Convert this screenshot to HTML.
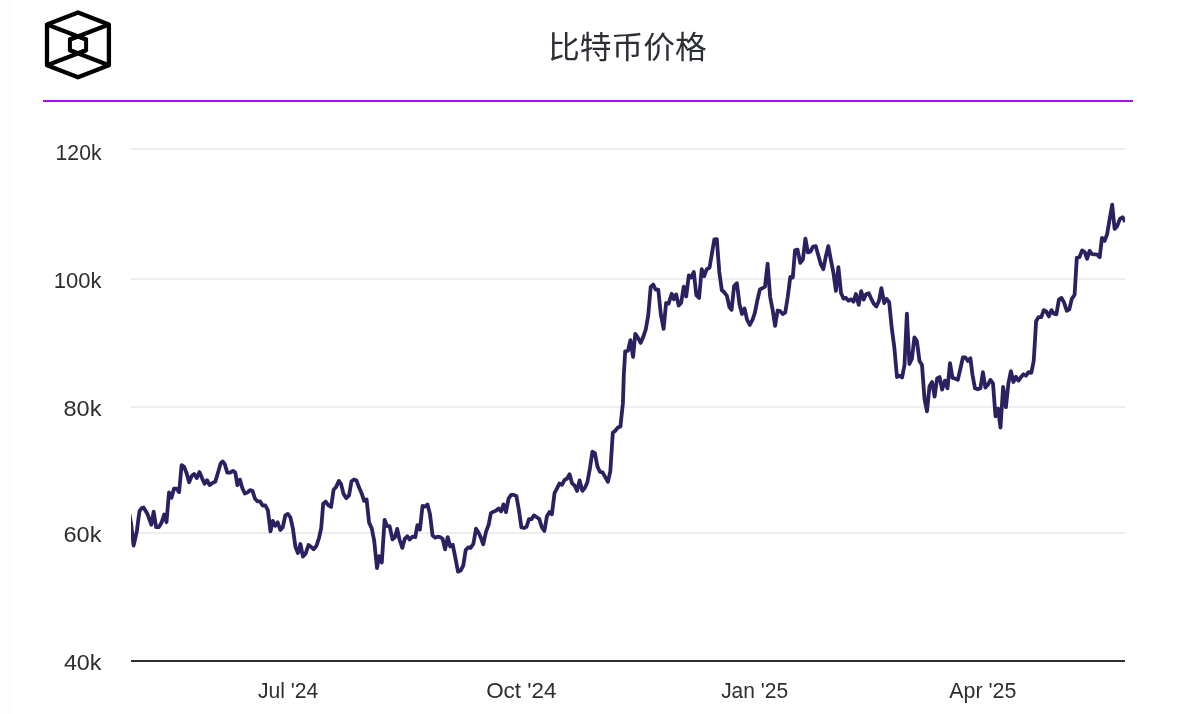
<!DOCTYPE html>
<html lang="zh">
<head>
<meta charset="utf-8">
<title>比特币价格</title>
<style>
html,body{margin:0;padding:0;background:#fff;}
body{width:1182px;height:714px;overflow:hidden;position:relative;font-family:"Liberation Sans","Noto Sans CJK SC",sans-serif;}
svg{position:absolute;left:0;top:0;display:block;}
.t{font-family:"Liberation Sans","Noto Sans CJK SC",sans-serif;font-size:22px;fill:#2e2e2e;}
.title{font-family:"Liberation Sans","Noto Sans CJK SC",sans-serif;font-size:31.8px;fill:#2b2e35;font-weight:400;}
</style>
</head>
<body>
<svg width="1182" height="714" viewBox="0 0 1182 714">
<rect width="1182" height="714" fill="#ffffff"/>
<rect x="0" y="0" width="12.7" height="714" fill="#fdfdfd"/>
<!-- logo -->
<g fill="none" stroke="#000" stroke-width="4.3" stroke-linejoin="round">
<path d="M78,12.4 L108.9,24.4 L108.9,65.3 L78,77.3 L47,65.3 L47,24.4 Z"/>
<path d="M47,24.4 L86.1,39.5 M108.9,24.4 L69.9,39.5 M47,65.3 L86.1,50.2 M108.9,65.3 L69.9,50.2"/>
<path stroke-width="4" stroke-linejoin="miter" d="M78,36.4 L86.1,39.5 L86.1,50.2 L78,53.3 L69.9,50.2 L69.9,39.5 Z"/>
</g>
<!-- title -->
<text class="title" x="627.4" y="58" text-anchor="middle" transform="translate(0 61) scale(1 0.963) translate(0 -61)">比特币价格</text>
<!-- purple rule -->
<rect x="43" y="100" width="1090" height="2" fill="#a80cff"/>
<!-- gridlines -->
<g fill="#eeeeee">
<rect x="131" y="148" width="994" height="2"/>
<rect x="131" y="278" width="994" height="2"/>
<rect x="131" y="406" width="994" height="2"/>
<rect x="131" y="532" width="994" height="2"/>
</g>
<rect x="131" y="660" width="994" height="2" fill="#303030"/>
<!-- y labels -->
<g class="t" text-anchor="end">
<text x="101.5" y="159.8" textLength="45.9" lengthAdjust="spacingAndGlyphs">120k</text>
<text x="101.5" y="287.8" textLength="47.8" lengthAdjust="spacingAndGlyphs">100k</text>
<text x="101.5" y="415.8" textLength="38.0" lengthAdjust="spacingAndGlyphs">80k</text>
<text x="101.5" y="541.9" textLength="38.0" lengthAdjust="spacingAndGlyphs">60k</text>
<text x="101.5" y="669.8" textLength="37.6" lengthAdjust="spacingAndGlyphs">40k</text>
</g>
<!-- x labels -->
<g class="t" text-anchor="middle">
<text x="288.1" y="698" textLength="60.3" lengthAdjust="spacingAndGlyphs">Jul '24</text>
<text x="521.3" y="698" textLength="70.3" lengthAdjust="spacingAndGlyphs">Oct '24</text>
<text x="754.6" y="698" textLength="66.9" lengthAdjust="spacingAndGlyphs">Jan '25</text>
<text x="982.8" y="698" textLength="67.1" lengthAdjust="spacingAndGlyphs">Apr '25</text>
</g>
<!-- series -->
<clipPath id="c"><rect x="131" y="120" width="994" height="560"/></clipPath>
<path clip-path="url(#c)" d="M128.4,509.3 L131.0,523.0 L133.6,545.6 L136.9,531.0 L138.5,518.0 L139.6,511.0 L141.5,508.2 L143.5,507.4 L147.4,513.8 L151.3,524.7 L153.7,511.7 L156.1,527.1 L158.9,527.1 L161.7,522.2 L164.2,514.5 L166.5,522.2 L169.0,492.5 L171.5,497.7 L174.0,488.6 L176.5,488.6 L179.1,492.1 L181.6,465.1 L184.1,466.9 L186.6,473.2 L189.1,482.3 L191.7,476.0 L194.2,473.9 L196.7,478.1 L199.5,472.1 L202.0,478.1 L204.6,483.7 L207.1,480.2 L209.6,485.1 L212.5,483.0 L215.3,481.6 L217.8,473.3 L220.6,463.5 L222.7,461.4 L224.8,464.2 L227.3,472.6 L230.1,472.6 L232.9,470.9 L235.3,472.6 L237.4,485.2 L239.9,479.6 L242.3,488.0 L244.8,493.6 L247.5,492.5 L250.0,490.1 L252.5,490.8 L254.9,498.5 L257.4,501.3 L260.1,501.3 L262.6,505.5 L265.4,505.5 L267.9,510.4 L270.5,531.4 L272.7,520.9 L275.2,525.8 L277.7,522.3 L280.3,530.0 L282.8,527.2 L285.3,515.3 L287.8,513.9 L290.4,517.4 L292.9,528.6 L295.4,546.8 L297.9,553.1 L300.4,544.0 L303.0,556.6 L305.5,553.8 L308.5,545.0 L311.3,547.1 L313.7,549.2 L316.5,545.7 L319.0,538.0 L321.2,528.2 L323.2,503.7 L325.7,501.6 L328.2,505.1 L331.1,506.9 L333.6,489.7 L336.1,486.9 L338.9,480.9 L341.1,484.1 L343.5,493.9 L346.3,498.1 L349.1,495.3 L351.5,481.3 L354.0,479.5 L356.5,480.6 L359.1,487.6 L361.6,493.2 L364.1,500.9 L366.6,499.5 L369.1,522.6 L371.7,528.2 L374.2,540.8 L377.0,568.1 L379.2,556.2 L381.8,562.5 L384.6,519.8 L387.1,526.1 L389.6,526.1 L392.5,539.4 L394.9,537.3 L397.2,528.9 L399.5,539.5 L402.3,547.9 L404.8,538.8 L407.3,536.3 L409.7,539.5 L412.5,536.7 L415.3,537.1 L417.4,525.1 L419.9,529.7 L422.5,505.9 L425.0,506.6 L427.5,504.5 L430.0,514.3 L432.5,535.3 L435.1,537.7 L437.7,536.7 L440.1,537.1 L442.6,538.8 L445.1,549.3 L447.7,537.1 L450.2,546.5 L452.7,544.7 L455.2,557.0 L458.0,571.7 L460.8,570.3 L463.3,565.4 L465.7,550.0 L468.1,547.5 L470.6,547.9 L473.4,543.7 L476.0,528.7 L478.5,532.5 L481.0,538.1 L483.2,544.4 L486.0,531.8 L488.6,524.8 L490.9,513.1 L493.4,511.7 L495.9,510.7 L498.6,508.6 L501.1,511.4 L503.5,504.4 L506.0,512.1 L508.5,498.8 L511.1,494.9 L513.7,494.9 L516.5,496.3 L518.9,510.0 L521.4,527.5 L523.9,528.0 L526.5,526.8 L529.0,519.1 L531.5,519.1 L534.0,515.4 L536.5,517.0 L539.3,519.1 L541.9,527.5 L544.4,531.0 L546.9,516.3 L549.4,512.1 L551.9,514.2 L554.5,493.2 L557.0,488.3 L559.5,483.4 L562.0,484.8 L564.6,479.9 L567.1,478.5 L569.6,474.3 L572.1,483.4 L574.6,485.5 L577.1,490.9 L579.6,480.4 L582.3,490.9 L584.8,488.1 L587.3,482.5 L589.8,469.2 L592.4,451.7 L594.9,453.1 L597.4,466.4 L599.9,471.8 L602.5,472.3 L605.1,476.9 L607.9,481.8 L610.3,471.3 L612.8,432.8 L615.3,430.7 L617.9,427.5 L620.4,426.5 L622.9,403.4 L623.8,375.0 L625.2,351.3 L628.0,350.6 L630.4,340.1 L633.1,356.9 L635.3,333.8 L638.1,338.0 L640.6,342.9 L643.1,337.3 L645.7,329.6 L648.2,315.6 L650.7,286.9 L653.2,284.5 L655.7,289.7 L658.3,289.7 L660.8,314.2 L663.6,328.9 L666.1,303.0 L668.6,303.7 L671.7,293.7 L673.9,299.3 L676.2,294.4 L678.7,305.6 L681.2,302.8 L683.7,286.7 L686.2,296.5 L688.8,275.5 L691.3,277.6 L693.8,272.0 L696.3,295.1 L699.1,297.9 L701.7,269.2 L704.2,276.2 L706.7,269.2 L709.5,267.8 L712.0,253.1 L714.3,239.5 L716.8,239.1 L719.3,272.0 L721.8,290.2 L724.3,292.3 L726.9,295.8 L729.4,307.0 L731.6,309.8 L734.1,286.0 L736.9,283.2 L739.5,304.2 L742.0,314.0 L744.5,308.4 L747.0,319.6 L749.8,325.0 L752.6,319.6 L754.9,312.6 L757.4,300.0 L759.9,289.5 L762.5,288.1 L765.0,286.7 L767.6,263.6 L770.1,296.5 L772.6,309.8 L775.1,325.9 L777.6,310.5 L780.2,311.2 L782.7,314.0 L785.2,312.6 L787.7,297.2 L790.3,276.9 L792.8,277.6 L795.0,250.3 L797.5,249.6 L800.3,262.9 L802.9,259.4 L805.4,238.7 L807.9,252.4 L810.4,251.7 L812.9,246.8 L815.7,246.1 L818.3,255.2 L820.8,264.3 L823.3,269.2 L825.8,256.6 L828.3,246.1 L830.9,260.1 L833.4,272.7 L835.9,290.9 L838.4,267.1 L841.0,293.0 L843.5,298.6 L846.0,297.9 L848.5,300.7 L851.0,299.3 L853.5,301.7 L855.9,294.0 L858.7,304.9 L861.2,291.2 L863.7,299.6 L866.2,294.0 L868.8,293.3 L871.3,298.9 L873.8,303.8 L876.3,306.6 L878.9,301.0 L881.4,288.1 L884.2,303.1 L886.7,298.9 L889.2,302.4 L891.7,327.6 L894.3,347.2 L897.0,377.1 L899.6,375.7 L902.1,377.5 L904.5,365.0 L906.9,313.6 L909.4,364.0 L911.9,358.6 L914.4,337.4 L916.9,341.0 L919.5,361.0 L922.0,365.0 L924.5,398.8 L927.0,411.4 L929.5,386.2 L932.1,382.0 L934.6,396.7 L937.1,378.5 L939.6,377.1 L942.1,389.7 L944.9,380.6 L947.5,388.3 L950.0,363.1 L952.5,377.8 L955.0,378.5 L957.8,379.9 L960.4,368.7 L962.9,357.5 L965.4,357.5 L967.9,361.0 L970.4,358.2 L972.5,375.0 L975.0,388.3 L977.8,389.3 L980.4,388.3 L982.9,372.2 L985.4,387.6 L987.9,384.8 L990.4,379.9 L993.0,383.4 L995.5,416.3 L998.0,408.6 L1000.5,427.5 L1003.1,386.9 L1005.9,407.2 L1008.4,383.4 L1010.9,371.1 L1013.4,382.0 L1015.9,376.7 L1018.5,380.6 L1021.0,377.1 L1023.5,374.3 L1026.0,375.7 L1028.5,372.2 L1031.3,372.9 L1033.7,361.0 L1034.7,345.0 L1036.1,321.3 L1038.5,317.1 L1041.3,317.1 L1043.8,310.1 L1046.3,311.5 L1048.9,316.4 L1051.4,310.1 L1053.9,313.6 L1056.4,314.3 L1058.9,299.6 L1061.5,297.9 L1064.0,302.4 L1066.8,310.8 L1069.3,309.4 L1071.8,298.9 L1074.6,294.7 L1076.8,257.8 L1079.4,257.2 L1082.1,250.4 L1084.7,252.0 L1087.1,258.8 L1089.6,250.9 L1092.0,254.1 L1094.7,254.3 L1097.2,254.6 L1099.7,257.2 L1102.0,237.8 L1104.6,240.9 L1107.1,234.1 L1109.6,219.4 L1112.2,204.7 L1114.6,228.9 L1117.2,226.2 L1119.9,218.9 L1122.5,217.3 L1124.0,219.2 L1125.1,222.0" fill="none" stroke="#2a2160" stroke-width="3.8" stroke-linejoin="round" stroke-linecap="butt"/>
</svg>
</body>
</html>
